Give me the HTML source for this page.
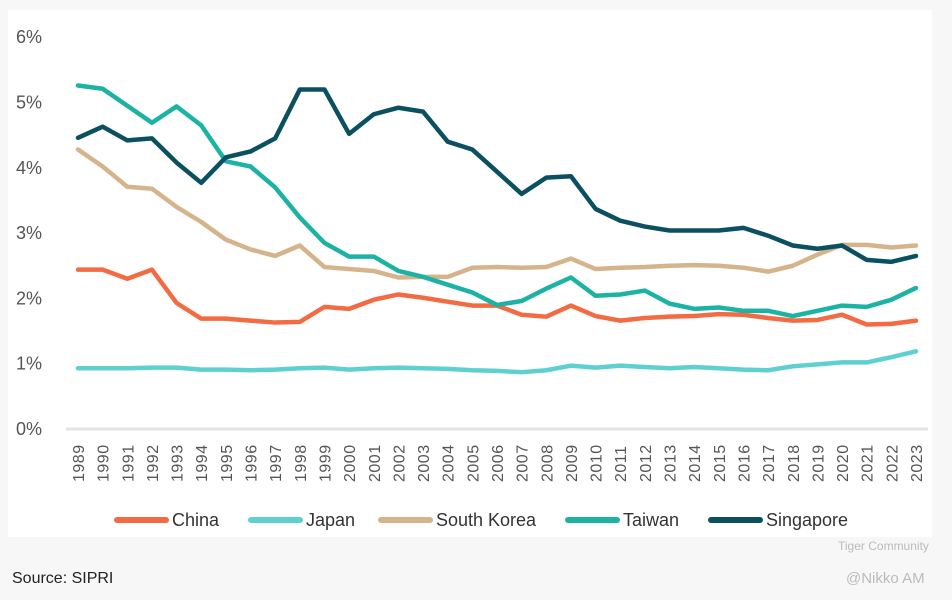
<!DOCTYPE html>
<html><head><meta charset="utf-8"><style>
body{margin:0;background:#f7f7f7;width:952px;height:600px;overflow:hidden;font-family:"Liberation Sans",sans-serif;}
#card{position:absolute;left:8px;top:10px;width:924px;height:527px;background:#fff;}
svg{position:absolute;left:0;top:0;}
.src{position:absolute;left:12px;top:570px;font-size:16px;color:#222;}
.wm{position:absolute;color:#bbb;}
</style></head><body>
<div id="card"></div>
<svg id="chart" width="952" height="600"></svg>
<div class="src">Source: SIPRI</div>
<div class="wm" style="left:838px;top:539px;font-size:12px;">Tiger Community</div>
<div class="wm" style="left:846px;top:570px;font-size:15px;">@Nikko AM</div>
<script>
const years=[];for(let y=1989;y<=2023;y++)years.push(y);
const yTicks=[0,1,2,3,4,5,6];
const china=[2.44,2.44,2.3,2.44,1.93,1.69,1.69,1.66,1.63,1.64,1.87,1.84,1.98,2.06,2.01,1.95,1.89,1.89,1.75,1.72,1.89,1.73,1.66,1.7,1.72,1.73,1.76,1.75,1.7,1.66,1.67,1.75,1.6,1.61,1.66];
const japan=[0.93,0.93,0.93,0.94,0.94,0.91,0.91,0.9,0.91,0.93,0.94,0.91,0.93,0.94,0.93,0.92,0.9,0.89,0.87,0.9,0.97,0.94,0.97,0.95,0.93,0.95,0.93,0.91,0.9,0.96,0.99,1.02,1.02,1.1,1.19];
const korea=[4.28,4.02,3.71,3.68,3.4,3.17,2.9,2.75,2.65,2.81,2.48,2.45,2.42,2.32,2.33,2.33,2.47,2.48,2.47,2.48,2.61,2.45,2.47,2.48,2.5,2.51,2.5,2.47,2.41,2.5,2.67,2.82,2.82,2.78,2.81];
const taiwan=[5.26,5.21,4.95,4.69,4.94,4.65,4.1,4.02,3.7,3.24,2.85,2.64,2.64,2.42,2.33,2.21,2.09,1.9,1.96,2.15,2.32,2.04,2.06,2.12,1.92,1.84,1.86,1.81,1.81,1.73,1.81,1.89,1.87,1.98,2.16];
const singapore=[4.46,4.63,4.42,4.45,4.08,3.77,4.16,4.25,4.45,5.2,5.2,4.52,4.82,4.92,4.86,4.4,4.28,3.94,3.6,3.85,3.87,3.37,3.19,3.1,3.04,3.04,3.04,3.08,2.96,2.81,2.76,2.81,2.59,2.56,2.65];
const seriesNames=["China","Japan","South Korea","Taiwan","Singapore"];
const seriesData=[china,japan,korea,taiwan,singapore];
const colors=["#f26b43","#5fd0d2","#d5b48c","#1db3a4","#0b5061"];
const svg=document.getElementById('chart');const NS="http://www.w3.org/2000/svg";
const x=i=>78+i*(916-78)/(years.length-1);
const y=v=>429-v*65.3;
function mk(t,a){const e=document.createElementNS(NS,t);for(const k in a)e.setAttribute(k,a[k]);svg.appendChild(e);return e;}
const base=mk('line',{x1:66,x2:928,y1:y(0),y2:y(0),stroke:'#e3e3e3','stroke-width':3});


yTicks.forEach(t=>{const e=mk('text',{x:16,y:y(t)+6,'font-size':18,fill:'#555'});e.textContent=t+'%';

});
years.forEach((yr,i)=>{const e=mk('text',{transform:`translate(${x(i)+6},482) rotate(-90)`,'font-size':16,fill:'#555','letter-spacing':'0.5'});e.textContent=yr;

});
seriesData.forEach((d,s)=>{const p=mk('polyline',{points:d.map((v,i)=>x(i)+','+y(v)).join(' '),fill:'none',stroke:colors[s],'stroke-width':4.5,'stroke-linejoin':'round','stroke-linecap':'round'});

});
const lx=[117,251,381,568,711];
seriesNames.forEach((n,s)=>{const l=mk('line',{x1:lx[s],x2:lx[s]+49,y1:520,y2:520,stroke:colors[s],'stroke-width':6,'stroke-linecap':'round'});


const t=mk('text',{x:lx[s]+55,y:526,'font-size':18,fill:'#333'});t.textContent=n;

});
</script>
</body></html>
